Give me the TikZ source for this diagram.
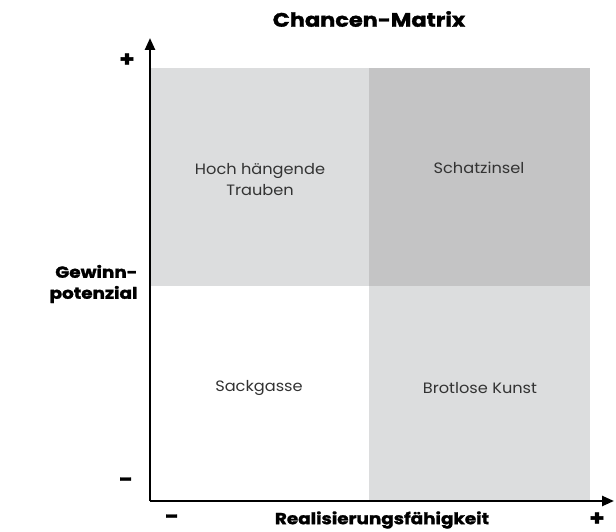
\documentclass[tikz,border=0pt]{standalone}
\usepackage{fontspec}
\setmainfont{Poppins}
\newfontfamily\heavyfont{Poppins}[BoldFeatures={FakeBold=1.6,FakeStretch=1.15}]
\newfontfamily\bookfont{Poppins}[FakeStretch=1.08]
\usetikzlibrary{arrows.meta}
\definecolor{lightq}{HTML}{DCDDDE}
\definecolor{darkq}{HTML}{C4C4C5}
\tikzset{
  axis/.style={line width=2.4pt, -{Triangle[length=12pt,width=10pt]}},
  quad/.style={font=\bookfont\fontsize{15}{21}\selectfont, align=center, text=black!80},
  lbl/.style={font=\heavyfont\bfseries\fontsize{16}{19}\selectfont},
  sign/.style={font=\heavyfont\bfseries\fontsize{21}{21}\selectfont},
}
\begin{document}
\begin{tikzpicture}[x=1pt,y=-1pt]
\useasboundingbox (0,0) rectangle (616,532);
\fill[lightq] (151,68) rectangle (369,286);
\fill[darkq] (369,68) rectangle (590,286);
\fill[lightq] (369,286) rectangle (590,501);
\coordinate (o) at (150,501);
\coordinate (ytip) at (150,38);
\coordinate (xtip) at (614,501);
\draw[axis] (o) -- (ytip);
\draw[axis] (o) -- (xtip);
\node[font=\heavyfont\bfseries\fontsize{19.5}{22}\selectfont] (title) at (369,19) {Chancen-Matrix};
\node[sign] (yplus) at (127,60) {+};
\node[sign] (yminus) at (126,482) {-};
\node[sign] (xminus) at (172,519) {-};
\node[sign] (xplus) at (597,519) {+};
\node[lbl] (xlab) at (382,520) {Realisierungsfähigkeit};
\node[lbl, align=right, anchor=east, font=\heavyfont\bfseries\fontsize{16}{21}\selectfont] (ylab) at (141,284) {Gewinn-\\potenzial};
\node[quad] (q1) at (260,180) {Hoch hängende\\Trauben};
\node[quad] (q2) at (479,168) {Schatzinsel};
\node[quad] (q3) at (259,388) {Sackgasse};
\node[quad] (q4) at (480,388) {Brotlose Kunst};
\end{tikzpicture}
\end{document}
